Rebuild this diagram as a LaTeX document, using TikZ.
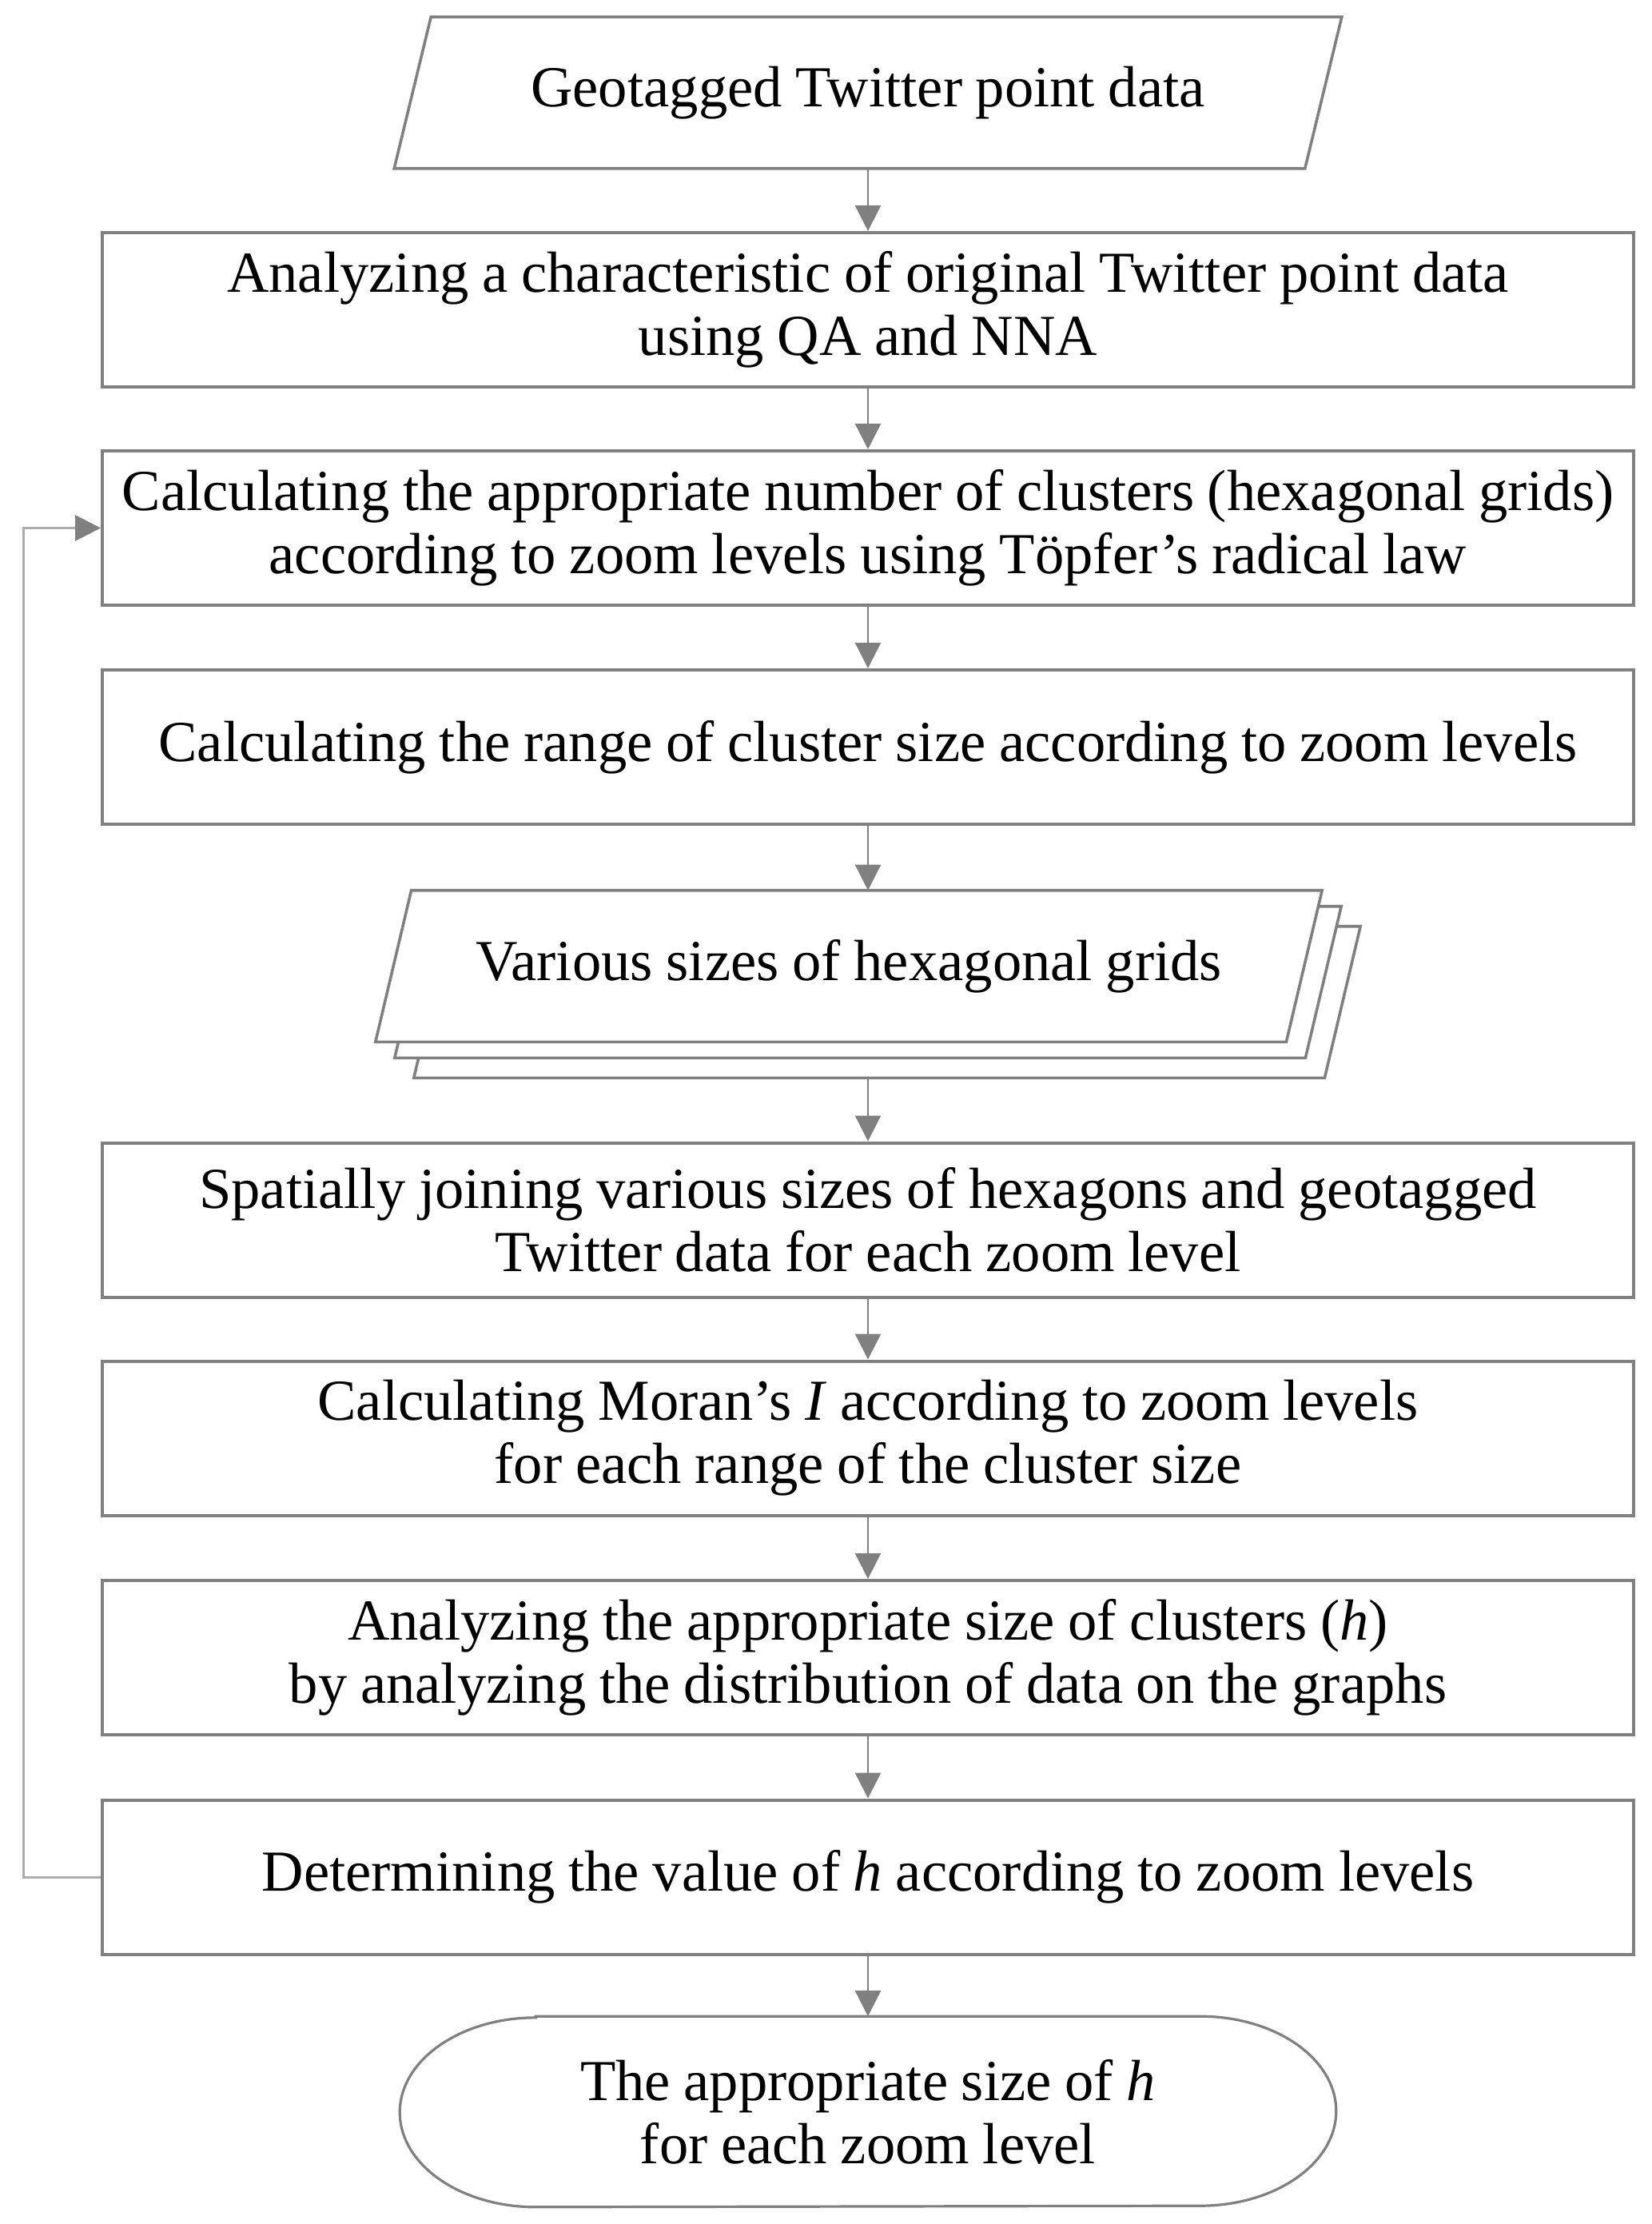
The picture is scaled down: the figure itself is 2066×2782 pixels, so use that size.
\documentclass[tikz,border=0pt]{standalone}
\usepackage{fontspec}
\setmainfont{Liberation Serif}[WordSpace=0.92]
\usetikzlibrary{arrows.meta,backgrounds}
\definecolor{edgegray}{RGB}{128,128,128}
\definecolor{fbgray}{RGB}{172,172,172}
\begin{document}
\begin{tikzpicture}[x=0.25pt,y=-0.25pt,
  every node/.style={font=\fontsize{18.15}{19.75}\selectfont},
  procbox/.style={draw=edgegray, line width=1pt, fill=white, minimum width=479pt,
    minimum height=48.25pt, inner sep=0pt, align=center},
  iotext/.style={minimum width=284.5pt, minimum height=47pt, inner sep=0pt, align=center},
  termtext/.style={minimum width=292.5pt, minimum height=59.25pt, inner sep=0pt, align=center},
  shapeline/.style={draw=edgegray, line width=0.9pt, fill=white},
  conn/.style={draw=edgegray, line width=0.6pt, -{Triangle[length=8pt,width=8pt]}},
  fbline/.style={draw=fbgray, line width=0.75pt, -{Triangle[length=8pt,width=8pt,color=edgegray]}}
]
\useasboundingbox (0,0) rectangle (2066,2782);

% nodes
\node[iotext] (p1) at (1086,116) {Geotagged Twitter point data};
\node[procbox] (b2) at (1086,387.5) {Analyzing a characteristic of original Twitter point data\\using QA and NNA};
\node[procbox] (b3) at (1086,660.5) {Calculating the appropriate number of clusters (hexagonal grids)\\according to zoom levels using Töpfer’s radical law};
\node[procbox] (b4) at (1086,934.5) {Calculating the range of cluster size according to zoom levels};
\node[iotext] (s3) at (1110,1253.5) {};
\node[iotext] (s2) at (1086,1228.5) {};
\node[iotext] (s1) at (1062,1208.5) {Various sizes of hexagonal grids};
\node[procbox] (b5) at (1086,1526) {Spatially joining various sizes of hexagons and geotagged\\Twitter data for each zoom level};
\node[procbox] (b6) at (1086,1799) {Calculating Moran’s \textit{I} according to zoom levels\\for each range of the cluster size};
\node[procbox] (b7) at (1086,2073.5) {Analyzing the appropriate size of clusters (\textit{h})\\by analyzing the distribution of data on the graphs};
\node[procbox] (b8) at (1086,2348) {Determining the value of \textit{h} according to zoom levels};
\node[termtext] (t) at (1086,2641.5) {The appropriate size of \textit{h}\\for each zoom level};
\coordinate (fb) at (29,2348);

% shapes behind the texts
\begin{scope}[on background layer]
\fill[white] (0,0) rectangle (2066,2782);
\path[shapeline] ([xshift=5.75pt]p1.north west) -- ([xshift=5.75pt]p1.north east)
  -- ([xshift=-5.75pt]p1.south east) -- ([xshift=-5.75pt]p1.south west) -- cycle;
\foreach \s in {s3,s2,s1}{
  \path[shapeline] ([xshift=5.6pt]\s.north west) -- ([xshift=5.6pt]\s.north east)
    -- ([xshift=-5.6pt]\s.south east) -- ([xshift=-5.6pt]\s.south west) -- cycle;
}
\path[shapeline, line width=0.8pt] ([xshift=42.5pt]t.north west) -- ([xshift=-42.5pt]t.north east)
  arc[start angle=90, end angle=-90, x radius=42.5pt, y radius=29.625pt]
  -- ([xshift=42.5pt]t.south west)
  arc[start angle=270, end angle=90, x radius=42.5pt, y radius=29.625pt] -- cycle;
\end{scope}

% connectors
\draw[conn] (p1.south) -- (b2.north);
\draw[conn] (b2.south) -- (b3.north);
\draw[conn] (b3.south) -- (b4.north);
\draw[conn] (b4.south) -- (b4.south |- s1.north);
\draw[conn] (b4.south |- s3.south) -- (b5.north);
\draw[conn] (b5.south) -- (b6.north);
\draw[conn] (b6.south) -- (b7.north);
\draw[conn] (b7.south) -- (b8.north);
\draw[conn] (b8.south) -- (t.north);
\draw[fbline] (b8.west) -- (b8.west -| fb) |- (b3.west);
\end{tikzpicture}
\end{document}
